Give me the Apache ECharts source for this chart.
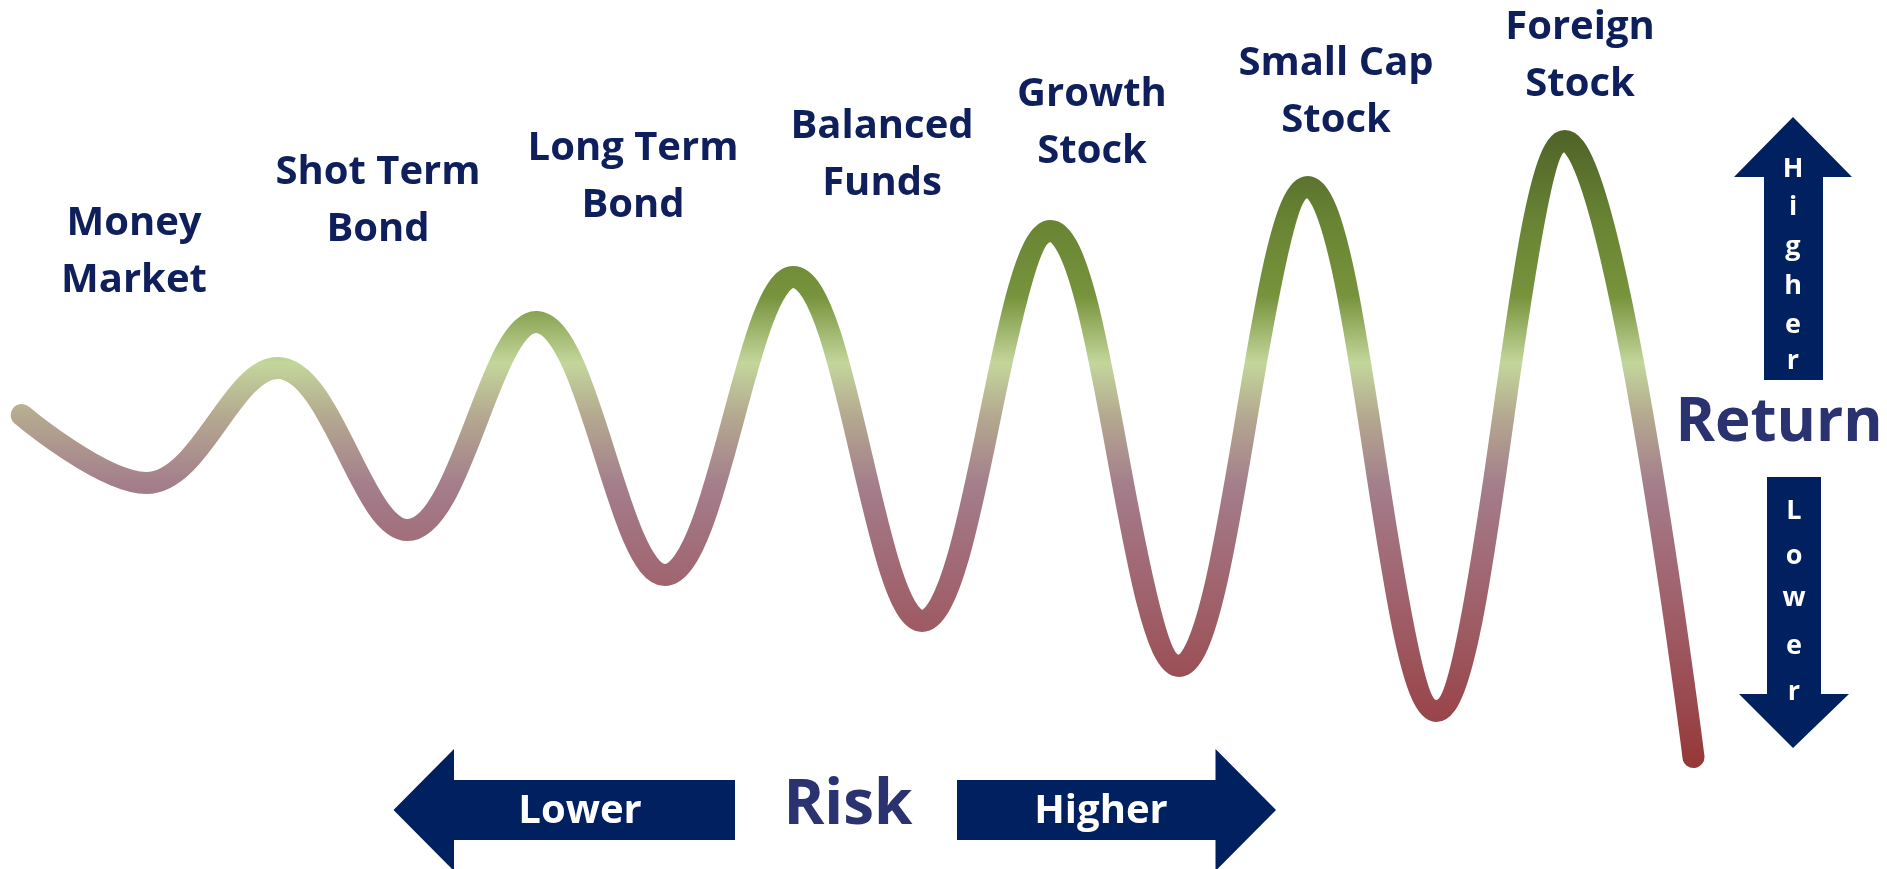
<!DOCTYPE html>
<html>
<head>
<meta charset="utf-8">
<script src="https://cdn.jsdelivr.net/npm/echarts@6/dist/echarts.min.js"></script>
<style>
html,body{margin:0;padding:0;background:#fff;}
#chart{width:1887px;height:869px;}
</style>
</head>
<body>
<div id="chart"></div>
<script>
// ---- data ----
const riskPos = [0, 0.97, 1.99, 3, 4, 5, 6, 7, 8, 9, 10, 11, 12, 13];
const returnLevel = [2.5, -4.3, 7.2, -9.0, 11.8, -13.5, 16.3, -18.1, 20.9, -22.6, 25.3, -27.1, 29.9, -31.7];
const assetClasses = [
  ['Money', 'Market'],
  ['Shot Term', 'Bond'],
  ['Long Term', 'Bond'],
  ['Balanced', 'Funds'],
  ['Growth', 'Stock'],
  ['Small Cap', 'Stock'],
  ['Foreign', 'Stock']
];
const riskTexts = ['Lower', 'Risk', 'Higher'];
const returnTexts = ['Higher', 'Return', 'Lower'];

// ---- layout ----
const NAVY = '#002060';
const LABEL = '#0e1f5b';
const TITLE = '#2a3270';
const FONT = '"Open Sans", "Noto Sans", sans-serif';
const labelAnchors = [[134, 224], [378, 173], [633, 149], [882, 127], [1092, 95], [1336, 64], [1580, 28]];
const labelLineGap = 57;
const upLetterY = [169, 207, 247, 286, 325, 361];
const downLetterY = [511, 556, 598, 646, 692];

const chart = echarts.init(document.getElementById('chart'));

const graphics = [];
assetClasses.forEach((lines, i) => {
  lines.forEach((t, j) => {
    graphics.push({
      type: 'text', x: labelAnchors[i][0], y: labelAnchors[i][1] + j * labelLineGap,
      style: { text: t, fill: LABEL, fontFamily: FONT, fontWeight: 'bold', fontSize: 40, align: 'center', verticalAlign: 'middle' }
    });
  });
});
// horizontal risk arrows
graphics.push({ type: 'polygon', shape: { points: [[393.5, 810], [454, 749], [454, 780], [735, 780], [735, 840], [454, 840], [454, 871]] }, style: { fill: NAVY } });
graphics.push({ type: 'polygon', shape: { points: [[1276, 810], [1215.5, 749], [1215.5, 780], [957, 780], [957, 840], [1215.5, 840], [1215.5, 871]] }, style: { fill: NAVY } });
graphics.push({ type: 'text', x: 580, y: 812, style: { text: riskTexts[0], fill: '#fff', fontFamily: FONT, fontWeight: 'bold', fontSize: 40, align: 'center', verticalAlign: 'middle' } });
graphics.push({ type: 'text', x: 848, y: 806, style: { text: riskTexts[1], fill: TITLE, fontFamily: FONT, fontWeight: 'bold', fontSize: 62, align: 'center', verticalAlign: 'middle' } });
graphics.push({ type: 'text', x: 1101, y: 812, style: { text: riskTexts[2], fill: '#fff', fontFamily: FONT, fontWeight: 'bold', fontSize: 40, align: 'center', verticalAlign: 'middle' } });
// vertical return arrows
graphics.push({ type: 'polygon', shape: { points: [[1793, 117], [1852, 177], [1823, 177], [1823, 380], [1764, 380], [1764, 177], [1734, 177]] }, style: { fill: NAVY } });
graphics.push({ type: 'polygon', shape: { points: [[1793, 748], [1849, 694], [1821, 694], [1821, 477], [1767, 477], [1767, 694], [1739, 694]] }, style: { fill: NAVY } });
returnTexts[0].split('').forEach((ch, k) => {
  graphics.push({ type: 'text', x: 1793, y: upLetterY[k], style: { text: ch, fill: '#fff', fontFamily: FONT, fontWeight: 'bold', fontSize: 27, align: 'center', verticalAlign: 'middle' } });
});
graphics.push({ type: 'text', x: 1779, y: 424, style: { text: returnTexts[1], fill: TITLE, fontFamily: FONT, fontWeight: 'bold', fontSize: 60, align: 'center', verticalAlign: 'middle' } });
returnTexts[2].split('').forEach((ch, k) => {
  graphics.push({ type: 'text', x: 1794, y: downLetterY[k], style: { text: ch, fill: '#fff', fontFamily: FONT, fontWeight: 'bold', fontSize: 27, align: 'center', verticalAlign: 'middle' } });
});

const option = {
  animation: false,
  backgroundColor: '#ffffff',
  grid: { left: 21.7, right: 193.5, top: 90, bottom: 79 },
  xAxis: { type: 'value', min: 0, max: 13, show: false },
  yAxis: { type: 'value', min: -35, max: 35, show: false },
  series: [{
    type: 'line',
    data: riskPos.map((x, i) => [x, returnLevel[i]]),
    smooth: 0.38,
    symbol: 'none',
    clip: false,
    lineStyle: {
      width: 22,
      cap: 'round',
      join: 'round',
      color: new echarts.graphic.LinearGradient(0, 0, 0, 1, [
        { offset: 0, color: '#4f6228' },
        { offset: 0.15, color: '#698534' },
        { offset: 0.26, color: '#77933c' },
        { offset: 0.365, color: '#c3d69b' },
        { offset: 0.45, color: '#b4a890' },
        { offset: 0.555, color: '#a47e8c' },
        { offset: 0.64, color: '#a26f7c' },
        { offset: 0.78, color: '#9e5b63' },
        { offset: 0.92, color: '#99454a' },
        { offset: 1, color: '#953735' }
      ])
    }
  }],
  graphic: graphics
};
chart.setOption(option);
</script>
</body>
</html>
